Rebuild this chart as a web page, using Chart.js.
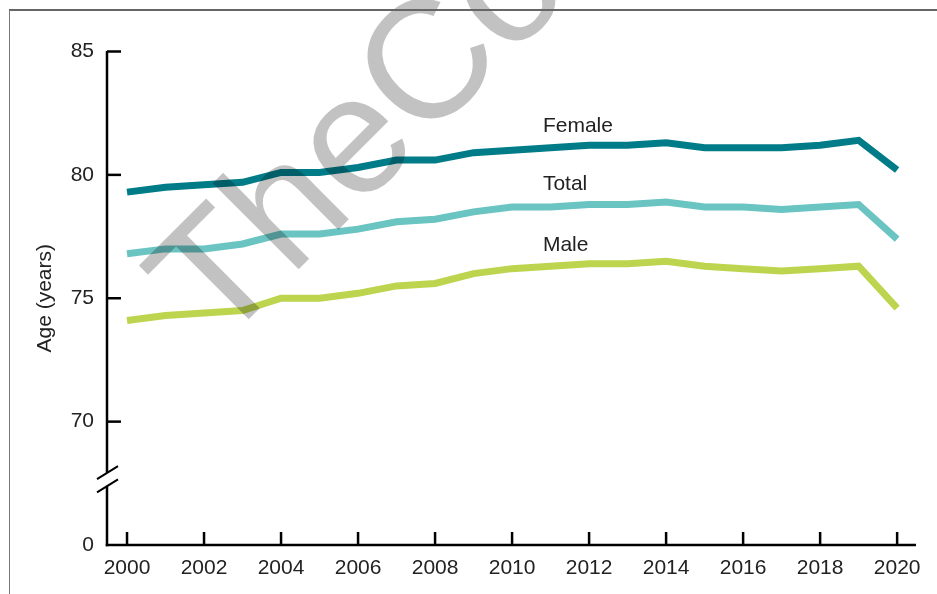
<!DOCTYPE html>
<html>
<head>
<meta charset="utf-8">
<script src="https://cdn.jsdelivr.net/npm/chart.js@4.4.0/dist/chart.umd.min.js"></script>
<style>
  html, body { margin: 0; padding: 0; background: #fff; }
  #wrap { position: relative; width: 937px; height: 594px; overflow: hidden; }
  #frame { position: absolute; left: 9px; top: 9px; width: 940px; height: 600px;
           border-top: 2px solid #666; border-left: 1px solid #777; pointer-events: none; }
</style>
</head>
<body>
<div id="wrap">
  <canvas id="c" width="937" height="594"></canvas>
  <div id="frame"></div>
</div>
<script>
// ---- data ----
const years = [2000, 2001, 2002, 2003, 2004, 2005, 2006, 2007, 2008, 2009, 2010,
               2011, 2012, 2013, 2014, 2015, 2016, 2017, 2018, 2019, 2020];
const female = [79.3, 79.5, 79.6, 79.7, 80.1, 80.1, 80.3, 80.6, 80.6, 80.9, 81.0,
                81.1, 81.2, 81.2, 81.3, 81.1, 81.1, 81.1, 81.2, 81.4, 80.2];
const total  = [76.8, 77.0, 77.0, 77.2, 77.6, 77.6, 77.8, 78.1, 78.2, 78.5, 78.7,
                78.7, 78.8, 78.8, 78.9, 78.7, 78.7, 78.6, 78.7, 78.8, 77.4];
const male   = [74.1, 74.3, 74.4, 74.5, 75.0, 75.0, 75.2, 75.5, 75.6, 76.0, 76.2,
                76.3, 76.4, 76.4, 76.5, 76.3, 76.2, 76.1, 76.2, 76.3, 74.6];
const seriesNames = ['Female', 'Total', 'Male'];
const xTickValues = [2000, 2002, 2004, 2006, 2008, 2010, 2012, 2014, 2016, 2018, 2020];
const yTickValues = [65, 70, 75, 80, 85];
const yTickLabels = ['0', '70', '75', '80', '85'];
const yAxisTitle = 'Age (years)';
const watermarkText = 'TheConversation';

// ---- styles ----
const FONT = '"Liberation Sans", Arial, sans-serif';
const colors = ['#007C89', '#6AC4C2', '#BDD44E'];
const TEXT = '#222';

const toPoints = arr => arr.map((v, i) => ({ x: years[i], y: v }));

const axesPlugin = {
  id: 'axesPlugin',
  afterDraw(chart) {
    const ctx = chart.ctx;
    const xs = chart.scales.x, ys = chart.scales.y;
    const ax = xs.left, ay = ys.bottom;
    ctx.save();
    ctx.strokeStyle = '#000';
    ctx.lineWidth = 2.5;
    ctx.lineCap = 'butt';
    // x axis line
    ctx.beginPath();
    ctx.moveTo(ax - 1.25, ay);
    ctx.lineTo(xs.right, ay);
    ctx.stroke();
    // y axis with break
    const brkTop = ys.getPixelForValue(67.93);
    const brkBot = ys.getPixelForValue(67.40);
    ctx.beginPath();
    ctx.moveTo(ax, ys.top - 0.5);
    ctx.lineTo(ax, brkTop);
    ctx.moveTo(ax, brkBot);
    ctx.lineTo(ax, ay + 1.25);
    ctx.stroke();
    // break slashes
    ctx.lineWidth = 2;
    [brkTop, brkBot].forEach(py => {
      ctx.beginPath();
      ctx.moveTo(ax - 10, py + 6.5);
      ctx.lineTo(ax + 11, py - 6.5);
      ctx.stroke();
    });
    // y ticks (inward)
    ctx.lineWidth = 2.5;
    yTickValues.forEach(v => {
      if (v === ys.min) return;
      const py = ys.getPixelForValue(v);
      ctx.beginPath();
      ctx.moveTo(ax, py);
      ctx.lineTo(ax + 14, py);
      ctx.stroke();
    });
    // x ticks (inward)
    xTickValues.forEach(v => {
      const px = xs.getPixelForValue(v);
      ctx.beginPath();
      ctx.moveTo(px, ay);
      ctx.lineTo(px, ay - 13);
      ctx.stroke();
    });
    // series labels
    ctx.fillStyle = TEXT;
    ctx.font = '21px ' + FONT;
    ctx.textAlign = 'left';
    ctx.textBaseline = 'alphabetic';
    const lx = xs.getPixelForValue(2010.8);
    const labelVals = [81.74, 79.39, 76.92];
    seriesNames.forEach((n, i) => {
      ctx.fillText(n, lx, ys.getPixelForValue(labelVals[i]));
    });
    // watermark
    ctx.translate(218, 350);
    ctx.rotate(-Math.PI / 4);
    ctx.font = '168px ' + FONT;
    ctx.fillStyle = 'rgba(0,0,0,0.24)';
    ctx.fillText(watermarkText, 0, 0);
    ctx.restore();
  }
};

new Chart(document.getElementById('c'), {
  type: 'line',
  data: {
    datasets: [
      { label: seriesNames[0], data: toPoints(female), borderColor: colors[0] },
      { label: seriesNames[1], data: toPoints(total),  borderColor: colors[1] },
      { label: seriesNames[2], data: toPoints(male),   borderColor: colors[2] }
    ]
  },
  options: {
    responsive: false,
    animation: false,
    devicePixelRatio: 1,
    layout: { padding: { top: 51.5, right: 21, bottom: 0, left: 0 } },
    elements: {
      line: { borderWidth: 7, tension: 0, borderCapStyle: 'butt', borderJoinStyle: 'miter', fill: false },
      point: { radius: 0, hoverRadius: 0 }
    },
    plugins: { legend: { display: false }, tooltip: { enabled: false }, title: { display: false } },
    scales: {
      x: {
        type: 'linear',
        min: 1999.48,
        max: 2020.49,
        grid: { display: false, drawTicks: false },
        border: { display: false },
        afterBuildTicks: s => { s.ticks = xTickValues.map(v => ({ value: v })); },
        afterFit: s => { s.height = 49; },
        ticks: {
          autoSkip: false, maxRotation: 0, padding: 11,
          color: TEXT, font: { family: FONT, size: 21 },
          callback: v => String(v)
        }
      },
      y: {
        type: 'linear',
        min: 65,
        max: 85,
        grid: { display: false, drawTicks: false },
        border: { display: false },
        afterBuildTicks: s => { s.ticks = yTickValues.map(v => ({ value: v })); },
        afterFit: s => { s.width = 107; },
        title: {
          display: true, text: yAxisTitle, color: TEXT,
          font: { family: FONT, size: 21 }, padding: { top: 33, bottom: 0 }
        },
        ticks: {
          padding: 13, color: TEXT, font: { family: FONT, size: 21 },
          callback: v => yTickLabels[yTickValues.indexOf(v)]
        }
      }
    }
  },
  plugins: [axesPlugin]
});
</script>
</body>
</html>
